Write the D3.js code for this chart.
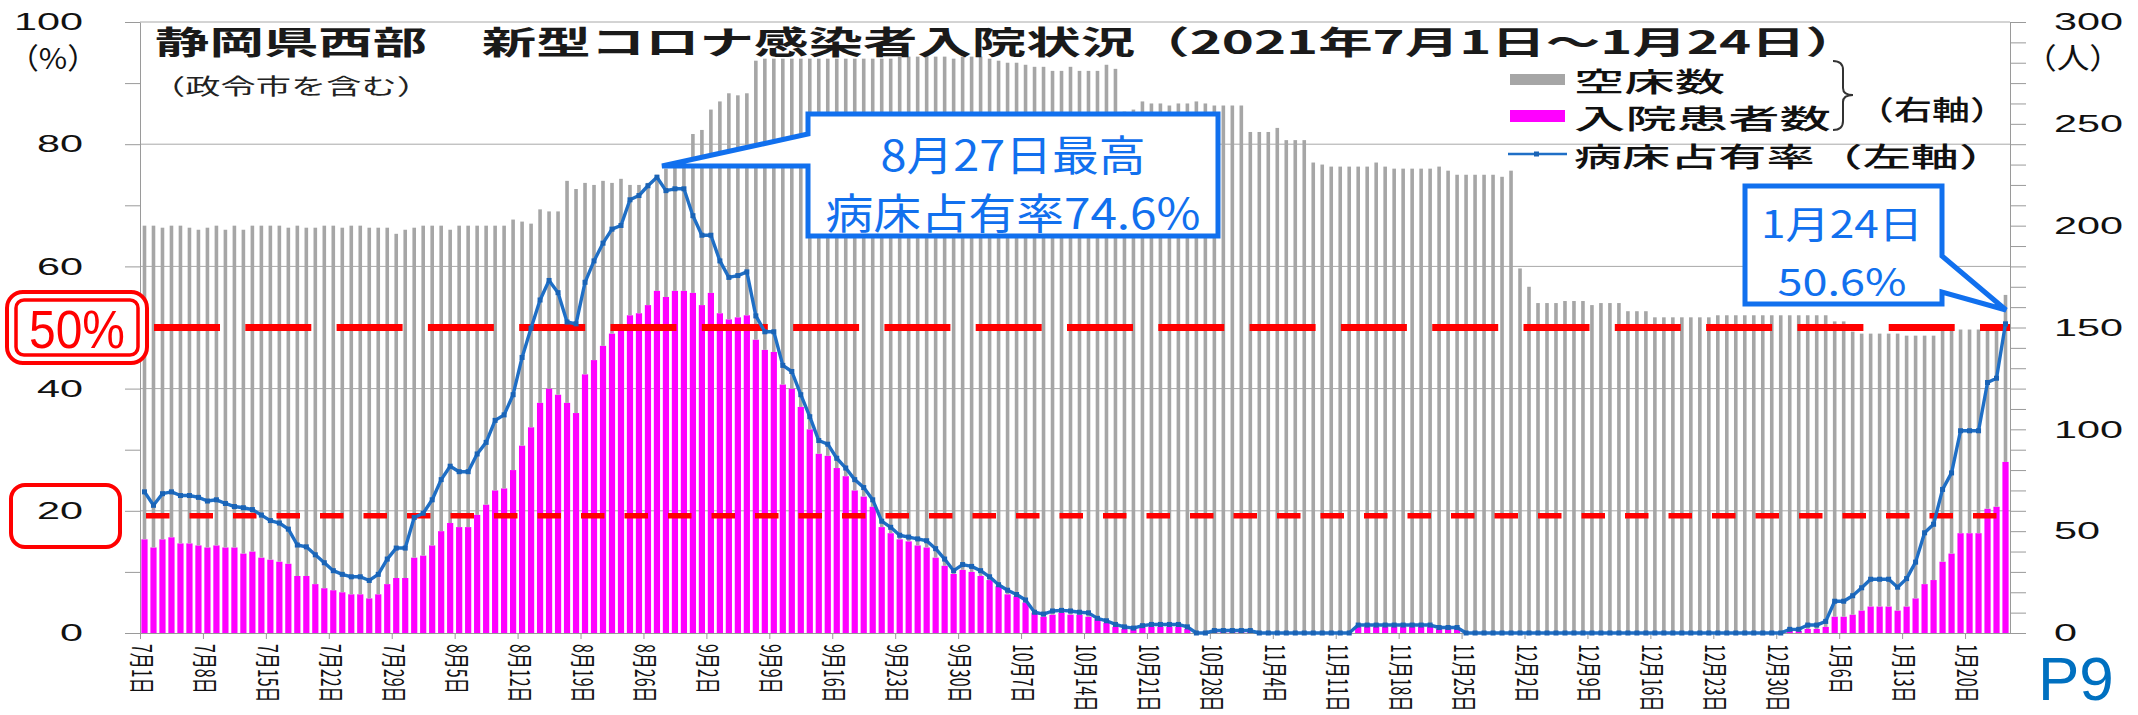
<!DOCTYPE html>
<html><head><meta charset="utf-8">
<script src="https://cdn.jsdelivr.net/npm/d3@7"></script>
<style>html,body{margin:0;padding:0;background:#fff;} svg{display:block;}</style>
</head><body>
<svg id="chart" width="2138" height="715"></svg>
<script>
// ---------------- DATA ----------------
const startDate = new Date(2021, 6, 1);   // 2021-07-01
const endDate   = new Date(2022, 0, 25);  // exclusive -> last day 2022-01-24
const dates = d3.timeDay.range(startDate, endDate); // 208 categories

const tickLabels = ["7月1日","7月8日","7月15日","7月22日","7月29日","8月5日","8月12日","8月19日","8月26日",
  "9月2日","9月9日","9月16日","9月23日","9月30日","10月7日","10月14日","10月21日","10月28日",
  "11月4日","11月11日","11月18日","11月25日","12月2日","12月9日","12月16日","12月23日","12月30日",
  "1月6日","1月13日","1月20日"];

// 入院患者数 (right axis)
const patients = [
  46,42,46,47,44,44,43,42,43,42, 42,39,40,37,36,35,34,28,28,24,
  22,21,20,19,19,17,19,24,27,27, 37,38,43,50,54,52,52,58,63,70,
  71,80,92,101,113,120,117,113,108,127, 134,141,147,151,156,157,161,168,165,168,
  168,167,161,167,157,154,155,156,144,139, 138,122,120,111,100,88,87,81,77,70,
  67,62,52,49,46,45,43,42,37,33, 29,31,30,28,26,23,19,18,15,10,
  8,9,10,9,9,8,7,5,3,2, 2,3,3,3,3,3,2,0,0,1,
  1,1,1,1,0,0,0,0,0,0, 0,0,0,0,0,3,3,3,3,3,
  3,3,3,3,2,2,2,0,0,0, 0,0,0,0,0,0,0,0,0,0,
  0,0,0,0,0,0,0,0,0,0, 0,0,0,0,0,0,0,0,0,0,
  0,0,0,1,1,2,2,3,8,8, 9,11,13,13,13,11,13,17,24,26,
  35,39,49,49,49,61,62,84];

// 空床数 (right axis, stacked on top of patients)
const emptyBeds = [
  154,158,153,153,156,155,155,157,157,156, 158,159,160,163,164,165,165,172,171,175,
  178,179,179,181,181,182,180,175,169,171, 162,162,157,150,144,148,148,142,137,130,
  129,123,110,100,95,87,90,109,110,94, 86,81,74,72,64,63,60,57,63,63,
  64,78,86,90,104,111,109,109,137,143, 144,160,162,171,182,194,195,201,205,212,
  215,220,230,233,237,238,240,242,246,250, 253,252,253,255,256,258,261,262,264,268,
  270,267,266,269,267,268,269,274,274,254, 255,258,257,257,256,257,258,261,260,258,
  258,258,258,245,246,246,248,242,242,242, 231,230,229,229,229,226,226,228,226,225,
  225,225,225,225,227,225,223,225,225,225, 225,224,227,179,170,162,162,162,163,163,
  163,161,162,162,162,158,158,158,155,155, 155,155,155,155,155,156,156,156,156,156,
  156,156,156,155,155,154,154,153,145,145, 139,136,134,134,134,136,133,129,122,120,
  114,110,100,100,100,88,87,82];

// 病床占有率 % (left axis)
const occupancy = [
  23.1,20.9,22.8,23.1,22.5,22.5,22.2,21.6,21.8,21.2, 20.7,20.5,20.2,19.3,18.4,18.0,17.0,14.4,14.1,12.8,
  11.5,10.2,9.6,9.2,9.2,8.6,9.6,12.1,13.9,13.9, 18.9,19.6,21.8,25.1,27.3,26.4,26.4,29.3,31.2,34.8,
  35.7,39.0,45.1,49.9,54.5,57.7,55.7,50.9,50.6,57.4, 60.9,63.8,66.1,66.7,70.9,71.6,73.2,74.6,72.4,72.7,
  72.7,68.3,65.1,65.1,60.9,58.2,58.5,59.1,51.9,49.3, 49.3,43.8,42.8,39.0,35.4,31.5,30.9,28.6,27.0,25.1,
  23.8,21.8,18.3,17.3,16.0,15.7,15.4,15.1,13.8,12.1, 10.2,11.2,10.9,10.2,9.2,7.9,7.0,6.3,5.4,3.4,
  3.1,3.6,3.7,3.6,3.4,3.3,2.4,2.0,1.4,1.0, 0.8,1.2,1.4,1.4,1.4,1.4,1.0,0.0,0.0,0.4,
  0.4,0.4,0.4,0.4,0,0,0,0,0,0, 0,0,0,0,0,1.3,1.3,1.3,1.3,1.3,
  1.3,1.3,1.3,1.3,0.9,0.9,0.9,0,0,0, 0,0,0,0,0,0,0,0,0,0,
  0,0,0,0,0,0,0,0,0,0, 0,0,0,0,0,0,0,0,0,0,
  0,0,0,0.6,0.6,1.3,1.3,1.9,5.2,5.2, 6.1,7.4,8.8,8.8,8.8,7.5,8.9,11.6,16.4,17.8,
  23.5,26.2,33.1,33.1,33.1,41.0,41.7,50.6];

const leftTicks = [0,20,40,60,80,100];
const rightTicks = [0,50,100,150,200,250,300];
const refLines = [50, 19.2];

// ---------------- LAYOUT ----------------
const X0 = 140, X1 = 2010, YT = 22, YB = 633;
const JP = "'Noto Sans CJK JP','Noto Sans',sans-serif";
const NUM = "'Liberation Sans',Arial,sans-serif";
const svg = d3.select("#chart");

const x = d3.scaleBand().domain(d3.range(dates.length)).range([X0, X1]).padding(0);
const bw = x.bandwidth();
const xEdge = d3.scaleLinear().domain([0, dates.length]).range([X0, X1]);
const yP = d3.scaleLinear().domain([0, 100]).range([YB, YT]);
const yC = d3.scaleLinear().domain([0, 300]).range([YB, YT]);

function txt(g, o) {
  const t = g.append("text")
    .attr("x", o.x).attr("y", o.y)
    .attr("text-anchor", o.anchor || "start")
    .attr("dominant-baseline", "central")
    .attr("font-family", o.family || JP)
    .attr("font-size", o.size)
    .attr("font-weight", o.weight || 400)
    .attr("fill", o.fill || "#111")
    .text(o.text);
  if (o.len) t.attr("textLength", o.len).attr("lengthAdjust", "spacingAndGlyphs");
  return t;
}

// gridlines
svg.append("g").selectAll("line").data([20,40,60,80,100]).join("line")
  .attr("x1", X0).attr("x2", X1).attr("y1", d => yP(d)).attr("y2", d => yP(d))
  .attr("stroke", "#a8a8a8").attr("stroke-width", 1);

// left axis
const gL = svg.append("g").attr("transform", `translate(${X0},0)`)
  .call(d3.axisLeft(yP).tickValues(d3.range(0, 101, 10)).tickSize(15).tickSizeOuter(0).tickPadding(42)
    .tickFormat(d => leftTicks.includes(d) ? d : ""));
gL.select(".domain").attr("stroke", "#9a9a9a");
gL.selectAll(".tick line").attr("stroke", "#9a9a9a");
gL.selectAll(".tick text").attr("font-family", NUM).attr("font-size", 24).attr("fill", "#111")
  .each(function(d){ const s = leftTicks.includes(d) ? String(d) : ""; if (s) d3.select(this).attr("textLength", 23*s.length).attr("lengthAdjust","spacingAndGlyphs"); });

// right axis
const gR = svg.append("g").attr("transform", `translate(${X1},0)`)
  .call(d3.axisRight(yC).tickValues(d3.range(0, 301, 10)).tickSize(16).tickSizeOuter(0).tickPadding(28)
    .tickFormat(d => rightTicks.includes(d) ? d : ""));
gR.select(".domain").attr("stroke", "#9a9a9a");
gR.selectAll(".tick line").attr("stroke", "#9a9a9a");
gR.selectAll(".tick text").attr("font-family", NUM).attr("font-size", 24).attr("fill", "#111")
  .each(function(d){ const s = rightTicks.includes(d) ? String(d) : ""; if (s) d3.select(this).attr("textLength", 23*s.length).attr("lengthAdjust","spacingAndGlyphs"); });

// bars (stacked)
const rows = dates.map((d, i) => ({ i, patients: patients[i], empty: emptyBeds[i] }));
const stack = d3.stack().keys(["patients", "empty"])(rows);
const barStyle = { patients: { w: 6.2, c: "#ff00ff" }, empty: { w: 3.6, c: "#a6a6a6" } };
stack.forEach(s => {
  const st = barStyle[s.key];
  svg.append("g").selectAll("rect").data(s).join("rect")
    .attr("x", d => x(d.data.i) + (bw - st.w) / 2)
    .attr("width", st.w)
    .attr("y", d => yC(d[1]))
    .attr("height", d => Math.max(0, yC(d[0]) - yC(d[1])))
    .attr("fill", st.c);
});

// bottom axis
const gB = svg.append("g").attr("transform", `translate(0,${YB})`)
  .call(d3.axisBottom(xEdge).tickValues(d3.range(0, dates.length, 7)).tickSize(6).tickSizeOuter(0)
    .tickFormat(i => tickLabels[i / 7]));
gB.select(".domain").attr("stroke", "#9a9a9a");
gB.selectAll(".tick line").attr("stroke", "#9a9a9a");
gB.selectAll(".tick text")
  .attr("x", 0).attr("y", 0).attr("dy", null)
  .attr("transform", "translate(3,11) rotate(90) scale(1,1.65)")
  .attr("text-anchor", "start").attr("dominant-baseline", "central")
  .attr("font-family", JP).attr("font-size", 16).attr("fill", "#111");

// reference dashed lines
svg.append("line").attr("x1", 154).attr("x2", X1).attr("y1", yP(refLines[0])).attr("y2", yP(refLines[0]))
  .attr("stroke", "#ff0000").attr("stroke-width", 7).attr("stroke-dasharray", "66 25.3");
svg.append("line").attr("x1", 146).attr("x2", X1).attr("y1", yP(refLines[1])).attr("y2", yP(refLines[1]))
  .attr("stroke", "#ff0000").attr("stroke-width", 5.5).attr("stroke-dasharray", "23.5 20");

// occupancy line
const lineCol = "#1f6fc6";
svg.append("path").datum(occupancy)
  .attr("d", d3.line().x((d, i) => x(i) + bw / 2).y(d => yP(d)))
  .attr("fill", "none").attr("stroke", lineCol).attr("stroke-width", 3.4).attr("stroke-linejoin", "round");
svg.append("g").selectAll("rect").data(occupancy).join("rect")
  .attr("x", (d, i) => x(i) + bw / 2 - 2.5).attr("y", d => yP(d) - 2.5)
  .attr("width", 5).attr("height", 5).attr("fill", "#1a63b5");

// titles
txt(svg, { x: 155, y: 40, text: "静岡県西部　新型コロナ感染者入院状況（2021年7月1日～1月24日）", size: 32, len: 1705, weight: 700, fill: "#1a1a1a" });
txt(svg, { x: 150, y: 84, text: "（政令市を含む）", size: 22, len: 282, fill: "#222" });
txt(svg, { x: 8, y: 56, text: "（%）", size: 29, len: 90, family: JP });
txt(svg, { x: 2024, y: 56, text: "（人）", size: 29, len: 98, family: JP });

// legend
svg.append("rect").attr("x", 1510).attr("y", 74).attr("width", 55).attr("height", 11).attr("fill", "#a6a6a6");
svg.append("rect").attr("x", 1510).attr("y", 110).attr("width", 55).attr("height", 12).attr("fill", "#ff00ff");
svg.append("line").attr("x1", 1508).attr("x2", 1567).attr("y1", 154).attr("y2", 154).attr("stroke", lineCol).attr("stroke-width", 2.5);
svg.append("rect").attr("x", 1534).attr("y", 151.5).attr("width", 5).attr("height", 5).attr("fill", "#1a63b5");
txt(svg, { x: 1574, y: 80, text: "空床数", size: 27, len: 151, weight: 500 });
txt(svg, { x: 1574, y: 117, text: "入院患者数", size: 27, len: 257, weight: 500 });
txt(svg, { x: 1574, y: 155, text: "病床占有率（左軸）", size: 27, len: 433, weight: 500 });
svg.append("path")
  .attr("d", "M1833,61 Q1843,61 1843,70 L1843,88 Q1843,95 1853,95 Q1843,95 1843,102 L1843,121 Q1843,130 1833,130")
  .attr("fill", "none").attr("stroke", "#333").attr("stroke-width", 2);
txt(svg, { x: 1856, y: 108, text: "（右軸）", size: 27, len: 152, weight: 500 });

// red highlight boxes on left axis
svg.append("rect").attr("x", 11).attr("y", 485).attr("width", 109).attr("height", 62).attr("rx", 14)
  .attr("fill", "none").attr("stroke", "#ff0000").attr("stroke-width", 4);
svg.append("rect").attr("x", 7).attr("y", 292).attr("width", 140).attr("height", 71).attr("rx", 16)
  .attr("fill", "#fff").attr("stroke", "#ff0000").attr("stroke-width", 4);
svg.append("rect").attr("x", 16).attr("y", 300).attr("width", 122).attr("height", 55).attr("rx", 8)
  .attr("fill", "#fff").attr("stroke", "#ff0000").attr("stroke-width", 3.5);
txt(svg, { x: 77, y: 329, text: "50%", size: 54, len: 96, anchor: "middle", family: NUM, fill: "#ff0000" });

// callout 1 (peak)
const calloutCol = "#1170ee";
svg.append("path")
  .attr("d", "M808,114 H1218 V236 H808 V166 L662,166 L808,134 Z")
  .attr("fill", "#fff").attr("stroke", calloutCol).attr("stroke-width", 5).attr("stroke-linejoin", "miter");
txt(svg, { x: 1013, y: 152, text: "8月27日最高", size: 42, len: 265, anchor: "middle", fill: calloutCol });
txt(svg, { x: 1013, y: 210, text: "病床占有率74.6%", size: 42, len: 375, anchor: "middle", fill: calloutCol });

// callout 2 (latest)
svg.append("path")
  .attr("d", "M1745,186 H1942 V256 L2006,310 L1942,292 V304 H1745 Z")
  .attr("fill", "#fff").attr("stroke", calloutCol).attr("stroke-width", 5).attr("stroke-linejoin", "miter");
txt(svg, { x: 1842, y: 221, text: "1月24日", size: 38, len: 162, anchor: "middle", fill: calloutCol });
txt(svg, { x: 1842, y: 279, text: "50.6%", size: 38, len: 129, anchor: "middle", fill: calloutCol });

// page number
svg.append("text").attr("x", 2038).attr("y", 700).attr("font-family", NUM).attr("font-size", 62)
  .attr("fill", "#0070c0").text("P9");
</script>
</body></html>
